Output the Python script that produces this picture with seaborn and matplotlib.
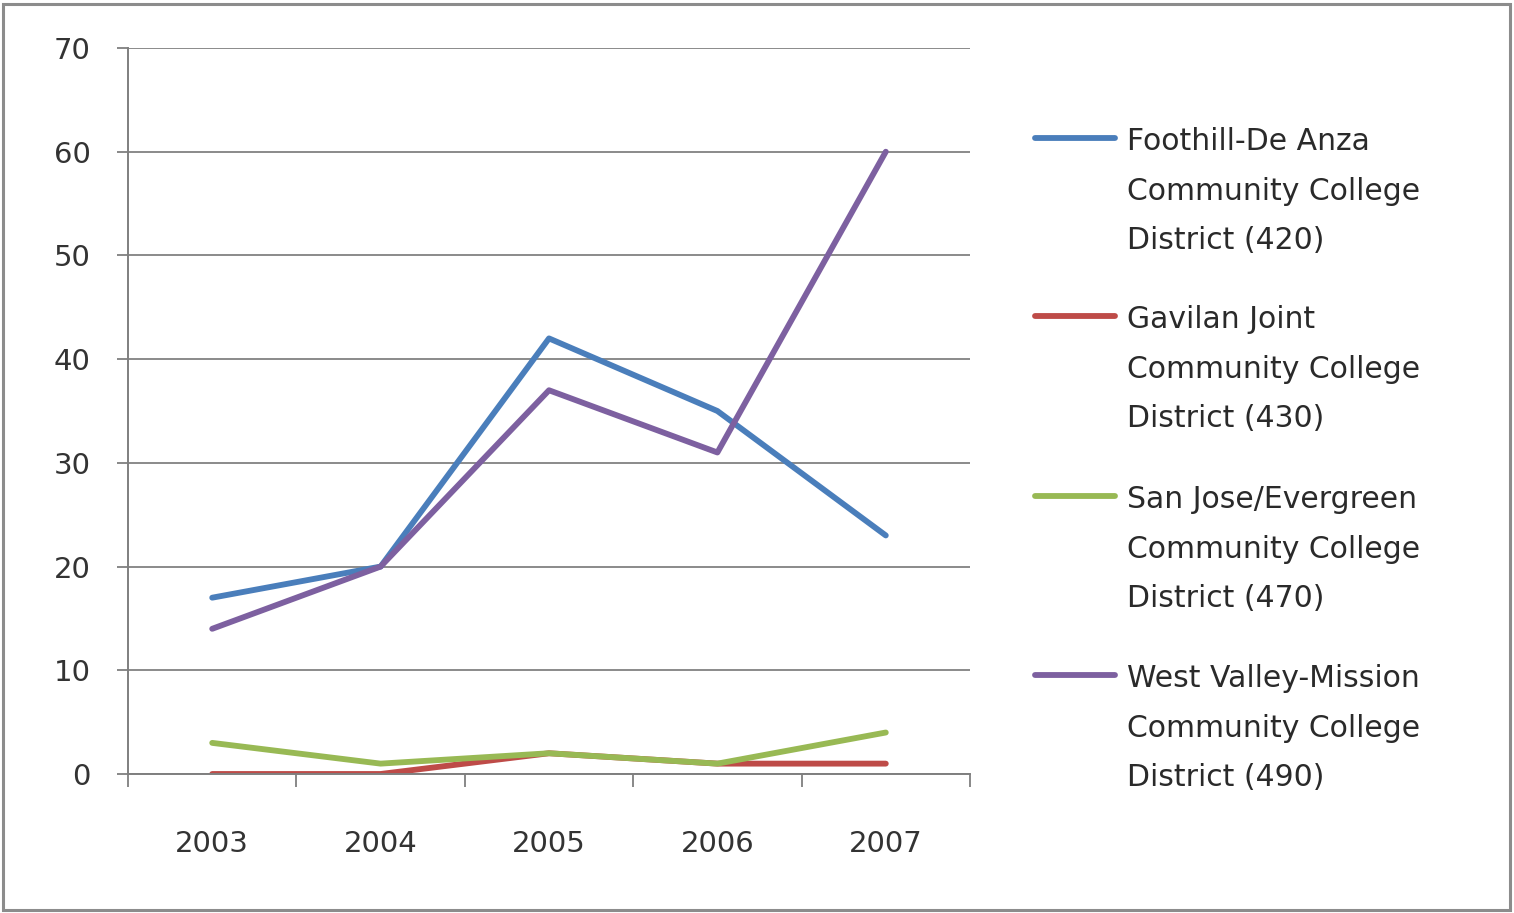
import matplotlib
matplotlib.use('Agg')
import matplotlib.pyplot as plt
import pandas
import seaborn as sns
from matplotlib.lines import Line2D
from matplotlib.patches import Rectangle

years = ['2003', '2004', '2005', '2006', '2007']
foothill = [17, 20, 42, 35, 23]
gavilan = [0, 0, 2, 1, 1]
san_jose = [3, 1, 2, 1, 4]
west_valley = [14, 20, 37, 31, 60]
district_names = [
    'Foothill-De Anza\nCommunity College\nDistrict (420)',
    'Gavilan Joint\nCommunity College\nDistrict (430)',
    'San Jose/Evergreen\nCommunity College\nDistrict (470)',
    'West Valley-Mission\nCommunity College\nDistrict (490)',
]
line_colors = ['#4a7ebb', '#be4b48', '#98b954', '#7d60a0']
y_ticks = [0, 10, 20, 30, 40, 50, 60, 70]

sns.set_style('white')
plt.rcParams['font.family'] = ['DejaVu Sans']

rows = []
for name, vals in zip(district_names, [foothill, gavilan, san_jose, west_valley]):
    for yr, v in zip(years, vals):
        rows.append({'Year': yr, 'Value': v, 'District': name})
df = pandas.DataFrame(rows)

fig = plt.figure(figsize=(15.14, 9.13), dpi=100)
ax = fig.add_axes([128 / 1514, 1 - 774 / 913, (970 - 128) / 1514, (774 - 48) / 913])

palette = dict(zip(district_names, line_colors))
sns.lineplot(data=df, x='Year', y='Value', hue='District', palette=palette,
             hue_order=district_names, linewidth=4.2, ax=ax, legend=False, sort=False)

ax.set_xlim(-0.5, 4.5)
ax.set_ylim(0, 70)
ax.set_yticks(y_ticks)
ax.set_xticks(range(len(years)))
ax.set_xticklabels(years)
ax.set_xticks([i - 0.5 for i in range(len(years) + 1)], minor=True)
ax.tick_params(axis='x', which='major', bottom=True, length=0, pad=40, labelsize=21, colors='#333333')
ax.tick_params(axis='x', which='minor', bottom=True, length=9, width=1.3, color='#7f7f7f', direction='out')
ax.tick_params(axis='y', left=True, length=8, width=1.3, color='#7f7f7f', direction='out', pad=19,
               labelsize=21, labelcolor='#333333')
ax.set_xlabel('')
ax.set_ylabel('')
ax.yaxis.grid(True, color='#8a8a8a', linewidth=1.4)
ax.set_axisbelow(True)
for s in ['top', 'right']:
    ax.spines[s].set_visible(False)
for s in ['left', 'bottom']:
    ax.spines[s].set_color('#7f7f7f')
    ax.spines[s].set_linewidth(1.4)

# legend, handle level with the first text line
entry_tops = [138, 316, 496, 675]
for name, color, ytop in zip(district_names, line_colors, entry_tops):
    yf = 1 - ytop / 913
    fig.add_artist(Line2D([1035 / 1514, 1115 / 1514], [yf, yf], color=color, linewidth=4.2,
                          transform=fig.transFigure))
    fig.text(1127 / 1514, 1 - (ytop - 11) / 913, name, fontsize=21.5, color='#2a2a2a', va='top',
             ha='left', linespacing=1.9, transform=fig.transFigure)

# outer frame
fig.add_artist(Rectangle((3 / 1514, 3 / 913), 1 - 7 / 1514, 1 - 7 / 913, fill=False,
                         edgecolor='#8c8c8c', linewidth=2.2, transform=fig.transFigure))

fig.savefig('out.png', dpi=100)
